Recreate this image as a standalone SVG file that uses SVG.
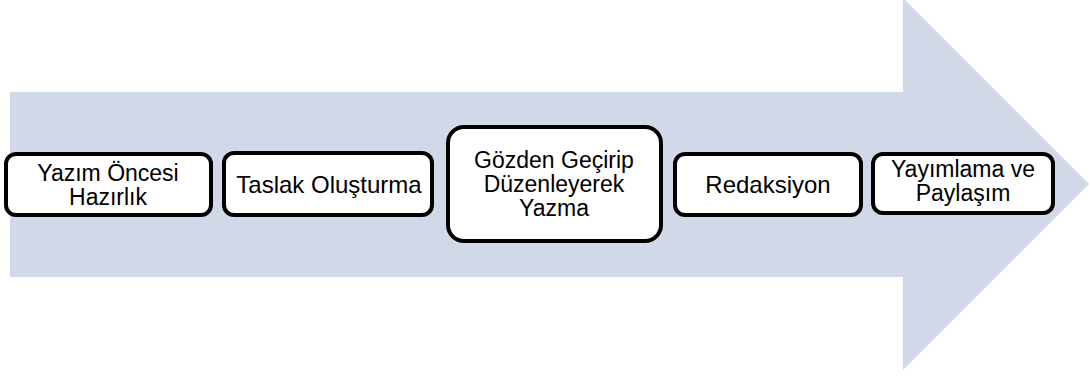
<svg xmlns="http://www.w3.org/2000/svg" width="1089" height="376" viewBox="0 0 1089 376">
  <style>
    .step rect { fill: #ffffff; stroke: #000000; stroke-width: 4; }
    .step text { font-family: "Liberation Sans", Arial, sans-serif; font-size: 23px; fill: #000000; text-anchor: middle; }
    .wide { font-size: 24px !important; }
  </style>
  <rect width="1089" height="376" fill="#ffffff"/>
  <!-- background process arrow -->
  <g id="connectors">
    <polygon points="10,92 903,92 903,-2 1089,184 903,370 903,277 10,277" fill="#D1D8E7"/>
  </g>
  <g id="step1" class="step">
    <rect x="6" y="154" width="205" height="61" rx="10"/>
    <text x="108" y="181">Yazım Öncesi</text>
    <text x="108" y="205">Hazırlık</text>
  </g>
  <g id="step2" class="step">
    <rect x="224" y="153" width="208" height="62" rx="10"/>
    <text class="wide" x="329" y="193">Taslak Oluşturma</text>
  </g>
  <g id="step3" class="step">
    <rect x="448" y="127" width="213" height="114" rx="16"/>
    <text x="554" y="168">Gözden Geçirip</text>
    <text x="554" y="192">Düzenleyerek</text>
    <text x="554" y="216">Yazma</text>
  </g>
  <g id="step4" class="step">
    <rect x="675" y="154" width="186" height="61" rx="10"/>
    <text class="wide" x="768" y="193">Redaksiyon</text>
  </g>
  <g id="step5" class="step">
    <rect x="873" y="154" width="180" height="59" rx="10"/>
    <text x="963" y="177">Yayımlama ve</text>
    <text x="963" y="201">Paylaşım</text>
  </g>
</svg>
